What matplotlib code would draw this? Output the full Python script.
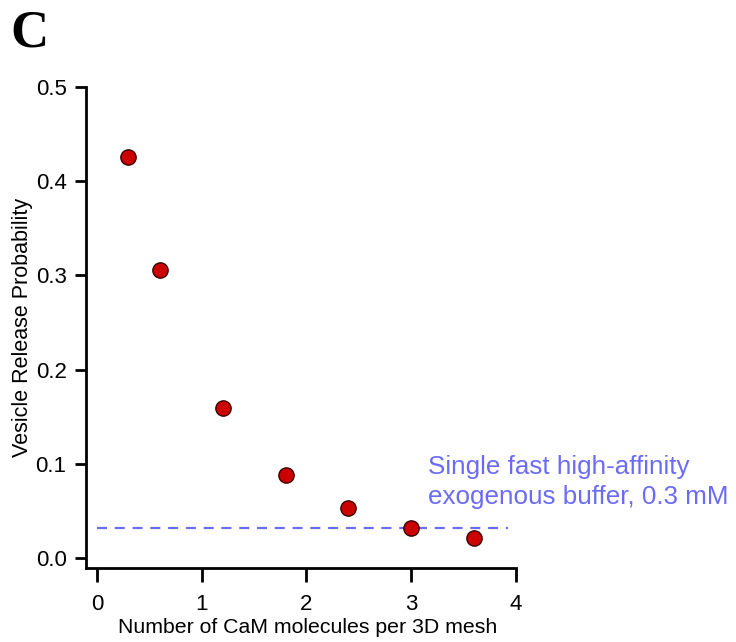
import numpy as np
import matplotlib.pyplot as plt

plt.rcParams['font.family'] = ['Liberation Sans', 'DejaVu Sans']

# data
cam_per_mesh = [0.3, 0.6, 1.2, 1.8, 2.4, 3.0, 3.6]
release_prob = [0.426, 0.306, 0.159, 0.088, 0.053, 0.032, 0.021]
buffer_level = 0.032
buffer_x = [0, 3.92]

fig = plt.figure(figsize=(7.36, 6.42), dpi=100)
ax = fig.add_axes([0.1168, 0.1153, 0.701 - 0.1168, 0.8645 - 0.1153])

ax.plot(buffer_x, [buffer_level, buffer_level], ls=(0, (4.5, 3.5)), color='#6b6bf5', lw=1.6, zorder=2)
ax.plot(cam_per_mesh, release_prob, 'o', ms=11, mfc='#cc0000', mec='#3a0000', mew=1.0, zorder=3)

ax.text(3.16, 0.0805, 'Single fast high-affinity\nexogenous buffer, 0.3 mM',
        color='#6b6bf5', fontsize=18.7, ha='left', va='center', linespacing=1.32, clip_on=False)

ax.set_xlim(-0.105, 4)
ax.set_ylim(-0.0106, 0.5)
ax.set_xticks([0, 1, 2, 3, 4])
ax.set_yticks([0.0, 0.1, 0.2, 0.3, 0.4, 0.5])
ax.set_yticklabels(['0.0', '0.1', '0.2', '0.3', '0.4', '0.5'])
for s in ['top', 'right']:
    ax.spines[s].set_visible(False)
for s in ['left', 'bottom']:
    ax.spines[s].set_linewidth(2)
ax.tick_params(axis='both', width=2, labelsize=16)
ax.tick_params(axis='y', length=8, pad=6)
ax.tick_params(axis='x', length=10, pad=9)

ax.set_xlabel('Number of CaM molecules per 3D mesh', fontsize=15.3, labelpad=1)
ax.xaxis.set_label_coords(0.515, -0.105)
ax.set_ylabel('Vesicle Release Probability', fontsize=15.5, labelpad=1.5)

fig.text(0.014, 0.985, 'C', fontsize=38, fontweight='bold', family='Liberation Serif', va='top', ha='left')

fig.savefig('out.png', dpi=100)
